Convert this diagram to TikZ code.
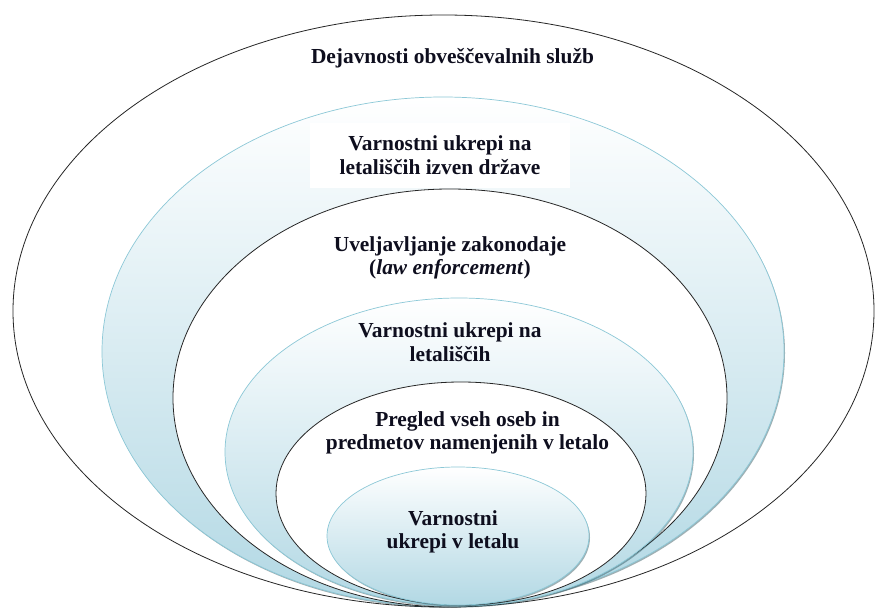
\documentclass[tikz,border=0pt]{standalone}
\usepackage{fontspec}
\setmainfont{Liberation Serif}[BoldFont={Liberation Serif Bold},ItalicFont={Liberation Serif Italic},BoldItalicFont={Liberation Serif Bold Italic}]
\definecolor{lblue}{RGB}{178,216,228}
\definecolor{bord}{RGB}{140,200,215}
\definecolor{txt}{RGB}{14,14,30}
\definecolor{shad}{RGB}{40,80,90}
\begin{document}
\begin{tikzpicture}[x=1pt,y=-1pt,
  blackring/.style={draw=black!85,line width=0.8pt,fill=white},
  bluering/.style={draw=bord,line width=0.7pt,top color=white,bottom color=lblue},
  shadowring/.style={fill=shad,opacity=0.45},
  lbl/.style={font=\fontsize{21.4}{23.5}\selectfont\bfseries,text=txt,align=center,inner sep=1pt}]
\useasboundingbox (0,0) rectangle (876,610);
\fill[white] (0,0) rectangle (876,610);
% outer
\draw[blackring] (443.5,311) ellipse [x radius=430.5pt, y radius=296pt];
% ring 2
\fill[shadowring] (444,353) ellipse [x radius=341pt, y radius=254.5pt];
\path[bluering] (443,351.5) ellipse [x radius=341pt, y radius=254.5pt];
% ring 3
\draw[blackring] (450,398) ellipse [x radius=277pt, y radius=209pt];
% ring 4
\fill[shadowring] (460,453.5) ellipse [x radius=234pt, y radius=154pt];
\path[bluering] (459,452) ellipse [x radius=234pt, y radius=154pt];
% ring 5
\draw[blackring] (461,493.5) ellipse [x radius=185pt, y radius=111.5pt];
% ring 6
\fill[shadowring] (459,537.5) ellipse [x radius=131pt, y radius=69pt];
\path[bluering] (458,536) ellipse [x radius=131pt, y radius=69pt];
% labels
\node[lbl] (t1) at (452.5,58) {Dejavnosti obveščevalnih služb};
\node[lbl,fill=white,minimum width=260pt,minimum height=65pt] (t2) at (440,155) {Varnostni ukrepi na\\letališčih izven države};
\node[lbl] (t3) at (450,258) {Uveljavljanje zakonodaje\\(\textit{law enforcement})};
\node[lbl] (t4) at (450,342) {Varnostni ukrepi na\\letališčih};
\node[lbl] (t5) at (467.5,433) {Pregled vseh oseb in\\predmetov namenjenih v letalo};
\node[lbl] (t6) at (453,532) {Varnostni\\ukrepi v letalu};
\end{tikzpicture}
\end{document}
